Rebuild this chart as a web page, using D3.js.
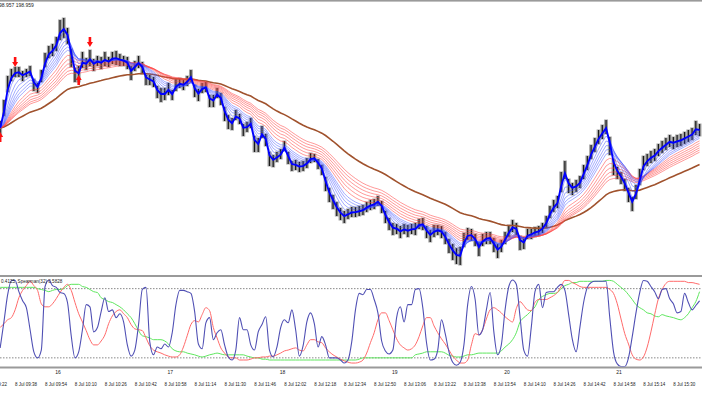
<!DOCTYPE html>
<html><head><meta charset="utf-8">
<script src="https://cdn.jsdelivr.net/npm/d3@7"></script>
<style>body{margin:0;background:#fff}svg{display:block}text{font-family:"Liberation Sans",Arial,sans-serif}</style>
</head><body><svg id="c" width="702" height="395"></svg>
<script>
// ---- data ----
const firstBar = "09:29";      // time of first bar
const barStep = 2;             // minutes between bars
const high = [198.887,198.908,198.932,198.939,198.941,198.941,198.937,198.939,198.942,198.929,
198.925,198.938,198.955,198.962,198.964,198.971,198.988,198.990,198.980,198.959,
198.940,198.942,198.956,198.950,198.958,198.949,198.952,198.951,198.956,198.951,
198.956,198.957,198.954,198.952,198.951,198.942,198.947,198.952,198.946,198.933,
198.933,198.931,198.922,198.920,198.920,198.925,198.918,198.929,198.930,198.928,
198.932,198.938,198.923,198.919,198.925,198.926,198.913,198.913,198.920,198.915,
198.901,198.893,198.890,198.898,198.894,198.884,198.886,198.890,198.872,198.870,
198.882,198.874,198.856,198.853,198.856,198.859,198.867,198.856,198.847,198.848,
198.846,198.847,198.850,198.855,198.854,198.849,198.843,198.831,198.820,198.813,
198.806,198.800,198.797,198.799,198.801,198.801,198.802,198.803,198.806,198.808,
198.809,198.812,198.807,198.797,198.790,198.785,198.784,198.782,198.784,198.783,
198.784,198.785,198.789,198.790,198.782,198.778,198.783,198.783,198.782,198.776,
198.769,198.764,198.760,198.761,198.775,198.780,198.779,198.774,198.766,198.774,
198.776,198.776,198.770,198.764,198.768,198.776,198.783,198.788,198.785,198.772,
198.771,198.779,198.779,198.781,198.782,198.785,198.792,198.802,198.808,198.812,
198.836,198.847,198.829,198.825,198.828,198.832,198.843,198.852,198.863,198.870,
198.878,198.883,198.888,198.871,198.849,198.841,198.836,198.829,198.820,198.811,
198.823,198.839,198.852,198.854,198.857,198.859,198.864,198.867,198.870,198.873,
198.871,198.873,198.874,198.876,198.878,198.880,198.887,198.884];
const low = [198.873,198.892,198.916,198.927,198.931,198.931,198.927,198.931,198.932,198.917,
198.915,198.926,198.941,198.950,198.952,198.957,198.968,198.970,198.964,198.941,
198.926,198.926,198.940,198.938,198.942,198.937,198.942,198.939,198.942,198.941,
198.944,198.943,198.942,198.942,198.939,198.928,198.937,198.940,198.934,198.923,
198.923,198.921,198.910,198.906,198.908,198.913,198.908,198.917,198.920,198.918,
198.922,198.926,198.911,198.907,198.915,198.916,198.901,198.901,198.910,198.903,
198.887,198.879,198.878,198.888,198.884,198.872,198.876,198.880,198.856,198.856,
198.870,198.862,198.842,198.841,198.846,198.849,198.857,198.844,198.837,198.838,
198.836,198.837,198.840,198.845,198.846,198.839,198.833,198.817,198.806,198.799,
198.792,198.788,198.785,198.789,198.791,198.791,198.792,198.793,198.796,198.798,
198.799,198.802,198.795,198.785,198.778,198.773,198.774,198.770,198.774,198.771,
198.774,198.773,198.779,198.778,198.770,198.766,198.771,198.773,198.770,198.764,
198.755,198.748,198.744,198.743,198.761,198.768,198.767,198.762,198.752,198.762,
198.764,198.764,198.756,198.750,198.756,198.764,198.771,198.776,198.773,198.758,
198.759,198.769,198.769,198.771,198.772,198.775,198.780,198.790,198.796,198.800,
198.816,198.829,198.815,198.813,198.816,198.820,198.829,198.838,198.849,198.856,
198.864,198.869,198.874,198.853,198.833,198.829,198.824,198.817,198.806,198.797,
198.809,198.823,198.838,198.842,198.845,198.847,198.852,198.855,198.858,198.861,
198.859,198.861,198.862,198.864,198.866,198.868,198.873,198.872];

const spearFast = [-0.57,0.03,0.66,0.99,0.99,0.73,0.52,0.36,-0.15,-0.66,
-0.80,-0.62,0.85,1.00,0.87,0.83,0.71,0.69,0.48,-0.29,
-0.80,-0.66,-0.15,0.43,0.38,-0.20,-0.10,0.27,0.59,0.27,
0.31,0.13,0.22,0.03,-0.50,-0.76,-0.62,-0.03,0.78,0.83,
-0.43,-0.73,-0.55,-0.59,-0.48,-0.55,-0.22,0.43,0.76,0.76,
0.73,0.69,0.27,-0.48,-0.59,0.01,0.13,-0.38,-0.22,-0.15,
-0.50,-0.78,-0.85,-0.62,0.13,-0.15,-0.15,-0.50,-0.62,-0.20,
-0.03,0.15,-0.62,-0.78,-0.55,-0.10,0.08,0.01,0.31,-0.15,
-0.76,-0.52,0.03,0.24,-0.01,-0.55,-0.31,-0.50,-0.80,-0.80,
-0.80,-0.85,-0.92,-0.85,-0.43,0.31,0.69,0.66,0.78,0.78,
0.55,0.24,-0.41,-0.64,-0.71,-0.62,0.13,0.38,0.03,0.43,
0.43,0.78,0.80,0.36,-0.45,-0.85,-0.83,-0.62,0.08,-0.24,
-0.66,-0.90,-0.97,-0.90,-0.50,0.43,0.85,0.55,-0.27,-0.15,
0.31,0.71,-0.20,-0.73,-0.50,0.31,0.85,1.00,0.90,0.15,
-0.62,-0.76,-0.10,0.73,0.90,0.36,0.71,0.73,0.73,0.83,
0.90,0.76,0.20,-0.38,-0.66,-0.10,0.48,0.83,0.94,0.97,
0.97,0.97,0.97,0.13,-0.66,-0.94,-1.00,-1.00,-0.80,-0.31,
0.24,0.71,0.99,0.97,0.85,0.73,0.57,0.78,0.80,0.57,
0.45,0.24,0.27,0.69,0.48,0.31,0.41,0.52];
const spearMid = [-0.10,-0.01,0.08,0.13,0.31,0.59,0.76,0.87,0.97,0.87,
0.76,0.45,0.38,0.38,0.45,0.57,0.71,0.83,0.90,0.76,
0.48,0.22,0.03,-0.17,-0.38,-0.50,-0.50,-0.41,-0.27,-0.01,
0.17,0.27,0.31,0.22,0.13,-0.03,-0.13,-0.15,-0.17,-0.34,
-0.52,-0.62,-0.66,-0.69,-0.73,-0.76,-0.78,-0.78,-0.73,-0.55,
-0.29,-0.03,0.06,0.03,0.20,0.36,0.29,-0.10,-0.34,-0.57,
-0.69,-0.78,-0.80,-0.80,-0.85,-0.85,-0.85,-0.83,-0.80,-0.80,
-0.78,-0.78,-0.76,-0.76,-0.73,-0.69,-0.64,-0.62,-0.59,-0.57,
-0.62,-0.64,-0.50,-0.38,-0.38,-0.43,-0.45,-0.57,-0.66,-0.73,
-0.78,-0.83,-0.87,-0.90,-0.92,-0.92,-0.90,-0.85,-0.69,-0.45,
-0.22,0.08,0.24,0.24,0.06,-0.15,-0.36,-0.50,-0.57,-0.62,
-0.59,-0.50,-0.31,-0.06,0.13,0.13,-0.06,-0.22,-0.36,-0.48,
-0.62,-0.76,-0.85,-0.92,-0.92,-0.85,-0.50,-0.24,-0.27,-0.15,
0.10,0.31,0.36,0.31,0.24,0.15,0.08,0.03,0.34,0.50,
0.41,0.31,0.29,0.48,0.55,0.55,0.55,0.59,0.64,0.71,
0.85,0.99,0.99,0.94,0.90,0.85,0.83,0.83,0.83,0.83,
0.83,0.83,0.83,0.78,0.69,0.45,0.10,-0.24,-0.48,-0.73,
-0.83,-0.85,-0.78,-0.55,-0.20,0.20,0.57,0.78,0.92,0.97,
0.97,0.97,0.97,0.97,0.94,0.94,0.92,0.90];
const spearSlow = [0.83,0.83,0.83,0.83,0.83,0.83,0.83,0.83,0.83,0.83,
0.80,0.78,0.76,0.73,0.76,0.78,0.78,0.80,0.87,0.90,
0.90,0.90,0.85,0.83,0.78,0.73,0.71,0.59,0.55,0.50,
0.48,0.43,0.38,0.31,0.22,0.13,-0.01,-0.17,-0.29,-0.31,
-0.34,-0.38,-0.38,-0.38,-0.41,-0.48,-0.59,-0.64,-0.66,-0.66,
-0.69,-0.71,-0.73,-0.76,-0.78,-0.76,-0.73,-0.71,-0.69,-0.71,
-0.73,-0.73,-0.73,-0.73,-0.73,-0.73,-0.76,-0.78,-0.80,-0.80,
-0.83,-0.83,-0.85,-0.85,-0.85,-0.85,-0.85,-0.85,-0.85,-0.85,
-0.85,-0.85,-0.85,-0.85,-0.85,-0.85,-0.85,-0.85,-0.85,-0.85,
-0.85,-0.85,-0.85,-0.85,-0.85,-0.85,-0.83,-0.80,-0.80,-0.80,
-0.80,-0.80,-0.80,-0.80,-0.80,-0.80,-0.80,-0.80,-0.80,-0.80,
-0.80,-0.73,-0.71,-0.69,-0.66,-0.66,-0.66,-0.66,-0.66,-0.69,
-0.74,-0.76,-0.78,-0.78,-0.76,-0.73,-0.73,-0.71,-0.69,-0.69,
-0.69,-0.69,-0.69,-0.69,-0.64,-0.55,-0.48,-0.38,-0.22,0.03,
0.13,0.20,0.29,0.38,0.55,0.62,0.66,0.69,0.69,0.71,
0.80,0.87,0.90,0.94,0.94,0.97,0.97,0.97,0.97,0.97,
0.97,0.97,0.99,0.99,0.97,0.90,0.83,0.76,0.66,0.55,
0.43,0.36,0.31,0.24,0.22,0.17,0.15,0.20,0.17,0.15,
0.13,0.10,0.08,0.13,0.22,0.36,0.50,0.73];

const timeTicks = ["09:22","09:38","09:54","10:10","10:26","10:42","10:58","11:14","11:30","11:46","12:02","12:18",
"12:34","12:50","13:06","13:22","13:38","13:54","14:10","14:26","14:42","14:58","15:14","15:30"];
const dayTicks = ["10:00","11:00","12:00","13:00","14:00","15:00"];
const dayLabels = ["16","17","18","19","20","21"];
const sigBar = [0, 4, 21, 24];
const sigDir = ["up", "down", "up", "down"];
const sigPrice = [198.876, 198.941, 198.933, 198.961];
const fastPeriod = 1.5;                    // thick blue EMA (bars)
const blueFan = [2.5, 4, 5.5, 7, 8.5, 10]; // short EMAs (bars)
const redFan = [12.5, 15, 17.5, 20, 22.5, 25]; // long EMAs (bars)
const brownPeriod = 42;
const levels = [0.8, -0.8];
const headerText = "98.957 198.959";
const indText = "0.4125, Spearman(32) 0.5828";

// ---- build ----
const W = 702, H = 395;
const svg = d3.select("#c");
svg.append("rect").attr("width", W).attr("height", H).attr("fill", "#fff");
const T = s => { const [h, m] = s.split(":").map(Number); return new Date(2024, 6, 8, h, m); };
const x = d3.scaleTime().domain([T("09:38"), T("15:30")]).range([17, 675.24]);
const y = d3.scaleLinear().domain([198.740, 199.008]).range([268, 0]);
const yi = d3.scaleLinear().domain([-1, 1]).range([366.5, 280]);
const t0 = T(firstBar);
const bars = high.map((h, i) => ({ t: new Date(+t0 + i * barStep * 60000), h, l: low[i], m: (h + low[i]) / 2 }));
const ema = (n) => { const a = 2 / (n + 1); let e; return bars.map((b, i) => (e = i === 0 ? b.m : a * b.m + (1 - a) * e)); };

const defs = svg.append("defs");
defs.append("clipPath").attr("id", "cm").append("rect").attr("x", 0).attr("y", 2).attr("width", W).attr("height", 272);
defs.append("clipPath").attr("id", "ci").append("rect").attr("x", 0).attr("y", 277).attr("width", W).attr("height", 89.5);

// frame lines
svg.append("rect").attr("x", 0).attr("y", 0).attr("width", W).attr("height", 1.6).attr("fill", "#9a9a9a");
svg.append("rect").attr("x", 0).attr("y", 275).attr("width", W).attr("height", 2).attr("fill", "#9a9a9a");
svg.append("rect").attr("x", 0).attr("y", 366.5).attr("width", W).attr("height", 2).attr("fill", "#9a9a9a");

const gm = svg.append("g").attr("clip-path", "url(#cm)");
// bars
gm.selectAll("line.bg").data(bars).join("line").attr("class", "bg")
  .attr("x1", d => x(d.t)).attr("x2", d => x(d.t)).attr("y1", d => y(d.h) - 0.5).attr("y2", d => y(d.l) + 0.5)
  .attr("stroke", "#a4a4a4").attr("stroke-width", 3.9);
gm.selectAll("line.bar").data(bars).join("line").attr("class", "bar")
  .attr("x1", d => x(d.t)).attr("x2", d => x(d.t)).attr("y1", d => y(d.h)).attr("y2", d => y(d.l))
  .attr("stroke", "#1a1a1a").attr("stroke-width", 1.2);

const line = d3.line().x((d, i) => x(bars[i].t)).y(d => y(d));
gm.append("path").attr("d", line(ema(brownPeriod))).attr("fill", "none").attr("stroke", "#a0522d").attr("stroke-width", 1.6);
redFan.forEach(n => gm.append("path").attr("d", line(ema(n))).attr("fill", "none").attr("stroke", "#ff4848").attr("stroke-opacity", 0.7).attr("stroke-width", 0.8));
blueFan.forEach(n => gm.append("path").attr("d", line(ema(n))).attr("fill", "none").attr("stroke", "#4050ff").attr("stroke-opacity", 0.6).attr("stroke-width", 0.8));
gm.append("path").attr("d", line(ema(fastPeriod))).attr("fill", "none").attr("stroke", "#0000ff").attr("stroke-width", 1.9);

// signal arrows
sigBar.forEach((b, k) => {
  const cx = x(bars[b].t), cy = y(sigPrice[k]);
  const s = sigDir[k] === "down" ? 1 : -1;
  const p = `M${cx},${cy} L${cx - 3},${cy - 5 * s} L${cx - 1.3},${cy - 5 * s} L${cx - 1.3},${cy - 10 * s} L${cx + 1.3},${cy - 10 * s} L${cx + 1.3},${cy - 5 * s} L${cx + 3},${cy - 5 * s} Z`;
  gm.append("path").attr("d", p).attr("fill", "#ff1010");
});

svg.append("text").attr("x", -1).attr("y", 6.5).attr("font-size", 5).attr("fill", "#222").text(headerText);

// indicator panel
const gi = svg.append("g").attr("clip-path", "url(#ci)");
levels.forEach(v => gi.append("line").attr("x1", 0).attr("x2", W).attr("y1", yi(v)).attr("y2", yi(v))
  .attr("stroke", "#555").attr("stroke-width", 0.7).attr("stroke-dasharray", "1.5,1.5"));
const il = d3.line().x((d, i) => x(bars[i].t)).y(d => yi(d)).curve(d3.curveMonotoneX);
gi.append("path").attr("d", il(spearSlow)).attr("fill", "none").attr("stroke", "#5ee65e").attr("stroke-width", 1);
gi.append("path").attr("d", il(spearMid)).attr("fill", "none").attr("stroke", "#ff6a6a").attr("stroke-width", 1);
gi.append("path").attr("d", il(spearFast)).attr("fill", "none").attr("stroke", "#5050b4").attr("stroke-width", 1.1);
svg.append("text").attr("x", 1).attr("y", 283).attr("font-size", 4.6).attr("fill", "#222").text(indText);

// time axis
svg.selectAll("text.day").data(dayTicks).join("text").attr("class", "day")
  .attr("x", d => x(T(d))).attr("y", 373.5).attr("text-anchor", "middle").attr("font-size", 5).attr("fill", "#222")
  .text((d, i) => dayLabels[i]);
svg.selectAll("text.tm").data(timeTicks).join("text").attr("class", "tm")
  .attr("x", d => x(T(d)) - 2).attr("y", 385.5).attr("font-size", 4.5).attr("fill", "#222")
  .text(d => "8 Jul " + d);
</script></body></html>
